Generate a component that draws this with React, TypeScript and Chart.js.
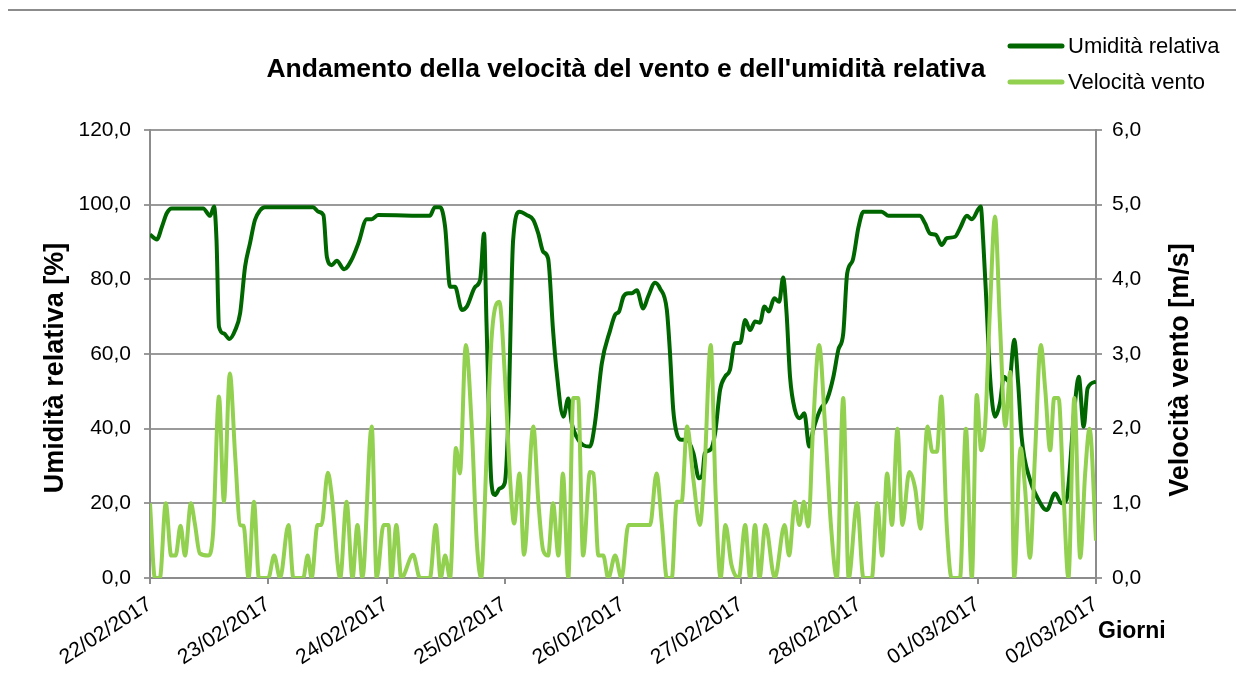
import React, { useEffect, useRef } from "react";
import { Chart, registerables } from "chart.js";

Chart.register(...registerables);

const dayLabels = [
  "22/02/2017", "23/02/2017", "24/02/2017", "25/02/2017", "26/02/2017",
  "27/02/2017", "28/02/2017", "01/03/2017", "02/03/2017",
];

// Hours from 22/02/2017 00:00 and relative humidity [%]
const humHours = [
  0, 1.4, 2.4, 3.4, 4.4, 10.8, 12.2, 13, 13.5, 14, 15, 16.1, 17.3, 18.3, 19.3, 20.3, 21.3, 22.3, 23.3,
  33.1, 34.2, 35.2, 35.9, 36.9, 37.9, 39.4, 40.9, 42.3, 44, 45, 46.3,
  56.8, 57.8, 58.9, 59.9, 60.9, 61.9, 63.3, 64.3, 66, 67, 67.8, 68.3, 69.3, 70, 71, 72, 72.7, 73.7,
  75, 76.5, 77.8, 78.8, 79.8, 80.8, 81.8, 82.5, 83.9, 84.9, 85.6, 86.6, 87.9, 89.3, 90.3, 91.7, 93.4,
  94.4, 95.2, 96.1, 97.1, 97.8, 98.8, 100.1, 101.1, 102.5, 103.5, 104.9, 105.5, 106.2, 106.9, 107.9,
  108.9, 110.3, 111.4, 112.1, 112.6, 113.7, 114.7, 115.7, 116.7, 117.7, 118.7, 119.8, 120.8, 121.8,
  122.8, 123.8, 124.7, 125.6, 126.7, 127.7, 128.5, 129.2, 129.9, 130.9, 131.9, 132.8, 133.8, 134.6,
  136, 137.5, 138.7, 139.7, 140.7, 141.5, 142.6, 143.8, 144.8, 148.5, 149.9, 156.3, 157.3, 158.3,
  159.5, 160.7, 161.7, 163.4, 164.4, 165.8, 166.8, 168.6, 169.1, 169.8, 170.5, 171.5, 172.5, 173.3,
  174.4, 175.4, 176.2, 176.9, 178.6, 180, 182, 183.7, 185, 186, 187.6, 188.5, 189.5, 190.3, 192,
];
const humValues = [
  92, 90.7, 94, 97.7, 99, 99, 97, 99.5, 90.5, 67.3, 65.5, 64, 66.4, 71, 83.4, 89.7, 95.9, 98.4, 99.3,
  99.3, 98.1, 97.2, 86, 83.8, 85, 82.7, 85.2, 89.7, 96.1, 96.1, 97.2,
  97, 99.3, 99.3, 94, 78, 78, 71.8, 72.7, 78, 79.8, 92.3, 68.2, 25.4, 22.2, 24, 25.4, 41.4, 90.5,
  98.1, 97.2, 95.9, 92.3, 87.4, 85.6, 66.4, 55.7, 43.2, 48.1, 41.4, 37.8, 35.6, 35.2, 41.4, 57.5, 66.4,
  70.5, 71.4, 75.4, 76.3, 76.3, 77.1, 72.2, 75.4, 79.1, 77.6, 71.8, 61.1, 45, 38.8, 37,
  37.1, 33.4, 26.7, 27.6, 33.4, 34.3, 38.8, 50.4, 53.9, 55.7, 62.9, 63, 69.1, 66.4,
  68.7, 68.4, 72.7, 71.4, 74.9, 74, 80.5, 70.9, 53.9, 45, 42.8, 44.1, 35.2, 39.6,
  45, 48.1, 53.9, 61.1, 65.5, 81.6, 85, 94, 98.1, 98.1, 97, 97, 95, 92.3,
  91.9, 89.2, 91, 91.4, 93.7, 97, 96.1, 99.5, 90.5, 72.7, 53.9, 43.2, 46.8, 53.9,
  52.6, 63.8, 52.2, 37.8, 26.3, 21.8, 18.2, 22.7, 20, 21, 45, 53.9, 40.5, 50.8, 52.6,
];

// Hours from 22/02/2017 00:00 and wind speed [m/s]
const windHours = [
  0, 1, 2, 3.2, 4.3, 5.2, 6.2, 7.1, 8.3, 9.1, 10.1, 11.8, 12.8, 14, 15, 16.2, 17.3, 18.3, 19, 20,
  21.1, 22.1, 24, 25.2, 26.4, 28.1, 29.1, 31.1, 32, 32.8, 34, 34.8, 36.1, 36.9, 38.6, 39.9, 41.1,
  42.1, 43.1, 45, 46, 47.4, 48.4, 49, 50, 51, 53.4, 54.8, 56.8, 58, 59, 59.9, 60.9, 62.1, 62.9,
  64.1, 65.3, 66.3, 67.2, 68.3, 69.3, 70.9, 72, 73.1, 73.9, 75, 75.9, 77.8, 78.8, 79.8, 80.8, 81.8,
  82.9, 83.8, 84.9, 85.9, 86.9, 87.9, 89.3, 90, 91, 92, 93, 94.4, 95.7, 97.1, 101.5, 102.8, 103.9,
  104.9, 105.9, 106.9, 107.9, 109, 110.3, 111.6, 112.6, 113.8, 114.8, 115.8, 116.8, 118, 119.5,
  120.8, 121.8, 122.8, 123.7, 124.9, 126.8, 128.8, 129.7, 130.9, 131.8, 132.7, 133.6, 134.6, 135.8,
  137, 138.2, 139.4, 140.7, 141.8, 143.5, 144.8, 146.5, 147.6, 148.6, 149.6, 150.6, 151.7, 152.7,
  154.1, 155.3, 156.4, 157.8, 158.8, 159.7, 160.6, 161.7, 162.7, 164.4, 165.6, 166.8, 167.8, 168.7,
  169.5, 170.5, 171.5, 172.5, 173.6, 174.6, 175.4, 176.7, 177.6, 178.6, 179.6, 180.8, 181.7, 182.7,
  183.5, 184.4, 185.4, 186.4, 187.6, 188.8, 189.8, 190.7, 192,
];
const windValues = [
  1.0, 0, 0, 1.0, 0.3, 0.3, 0.7, 0.3, 1.0, 0.73, 0.33, 0.3, 0.6, 2.43, 1.02, 2.74, 1.62, 0.71, 0.7, 0,
  1.02, 0, 0, 0.3, 0, 0.71, 0, 0, 0.3, 0, 0.71, 0.71, 1.41, 1.1, 0, 1.02, 0,
  0.71, 0, 2.03, 0, 0.71, 0.71, 0, 0.71, 0, 0.31, 0, 0, 0.71, 0, 0.3, 0, 1.74, 1.4,
  3.12, 2.03, 0.51, 0, 1.62, 3.19, 3.7, 2.74, 1.31, 0.73, 1.4, 0.31, 2.03, 1.04, 0.37, 0.3, 1.0,
  0.3, 1.4, 0, 2.41, 2.41, 0.3, 1.42, 1.4, 0.3, 0.3, 0, 0.3, 0, 0.71, 0.71, 1.4, 0.71,
  0, 0, 1.02, 1.02, 2.03, 1.31, 0.71, 1.53, 3.12, 1.13, 0, 0.71, 0.18, 0,
  0.71, 0, 0.71, 0, 0.71, 0, 0.71, 0.3, 1.02, 0.71, 1.02, 0.69, 2.05, 3.12,
  2.05, 0.71, 0, 2.41, 0, 1.0, 0, 0, 1.0, 0.3, 1.4, 0.71, 2.0, 0.71,
  1.42, 1.2, 0.66, 2.03, 1.69, 1.69, 2.43, 0.71, 0, 0, 2.0, 0, 2.45, 1.71,
  2.05, 3.63, 4.84, 3.41, 2.03, 2.76, 0, 1.74, 1.2, 0.27, 1.62, 3.12, 2.52, 1.71,
  2.41, 2.41, 1.13, 0, 2.41, 0.27, 1.4, 2.0, 0.5,
];

const humTicks = [0, 20, 40, 60, 80, 100, 120];
const windTicks = [0, 1, 2, 3, 4, 5, 6];

const DARK = "#006600";
const LIGHT = "#92D050";
const FONT = "'Liberation Sans', Arial, sans-serif";

const decorPlugin = {
  id: "decor",
  afterDraw(chart: any) {
    const ctx = chart.ctx as CanvasRenderingContext2D;
    ctx.save();
    ctx.fillStyle = "#000";
    // title
    ctx.font = `bold 26.5px ${FONT}`;
    ctx.textAlign = "center";
    ctx.textBaseline = "alphabetic";
    ctx.fillText("Andamento della velocità del vento e dell'umidità relativa", 626, 77);

    // legend
    const items = [
      { label: "Umidità relativa", color: DARK, y: 46 },
      { label: "Velocità vento", color: LIGHT, y: 82 },
    ];
    ctx.font = `22px ${FONT}`;
    ctx.textAlign = "left";
    ctx.textBaseline = "middle";
    for (const it of items) {
      ctx.strokeStyle = it.color;
      ctx.lineWidth = 5;
      ctx.lineCap = "round";
      ctx.beginPath();
      ctx.moveTo(1010, it.y);
      ctx.lineTo(1062, it.y);
      ctx.stroke();
      ctx.fillStyle = "#000";
      ctx.fillText(it.label, 1068, it.y + 1);
    }

    // axis titles
    ctx.font = `bold 27px ${FONT}`;
    ctx.textAlign = "center";
    ctx.textBaseline = "middle";
    ctx.save();
    ctx.translate(56, 368);
    ctx.rotate(-Math.PI / 2);
    ctx.fillText("Umidità relativa [%]", 0, 0);
    ctx.restore();
    ctx.save();
    ctx.translate(1181, 370);
    ctx.rotate(-Math.PI / 2);
    ctx.fillText("Velocità vento [m/s]", 0, 0);
    ctx.restore();

    ctx.font = `bold 23px ${FONT}`;
    ctx.textAlign = "left";
    ctx.fillText("Giorni", 1098, 632);
    ctx.restore();
  },
};

export default function App() {
  const canvasRef = useRef<HTMLCanvasElement | null>(null);

  useEffect(() => {
    if (!canvasRef.current) return;
    const fmt = (v: number) => v.toFixed(1).replace(".", ",");
    const chart = new Chart(canvasRef.current, {
      type: "line",
      data: {
        datasets: [
          {
            label: "Umidità relativa",
            data: humHours.map((h, i) => ({ x: h, y: humValues[i] })),
            borderColor: DARK,
            backgroundColor: DARK,
            borderWidth: 4,
            pointRadius: 0,
            cubicInterpolationMode: "monotone",
            yAxisID: "y",
            order: 1,
          },
          {
            label: "Velocità vento",
            data: windHours.map((h, i) => ({ x: h, y: windValues[i] })),
            borderColor: LIGHT,
            backgroundColor: LIGHT,
            borderWidth: 4,
            pointRadius: 0,
            cubicInterpolationMode: "monotone",
            yAxisID: "y1",
            order: 0,
          },
        ],
      },
      options: {
        responsive: false,
        animation: false,
        devicePixelRatio: 1,
        layout: { padding: { top: 130, left: 0, right: 0, bottom: 0 } },
        plugins: {
          legend: { display: false },
          title: { display: false },
          tooltip: { enabled: false },
        },
        font: { family: FONT },
        scales: {
          x: {
            type: "linear",
            min: 0,
            max: 192,
            ticks: {
              stepSize: 24,
              autoSkip: false,
              maxRotation: 33,
              minRotation: 33,
              padding: 8,
              color: "#000",
              font: { size: 21, family: FONT },
              callback: (v: any) => dayLabels[Math.round(Number(v) / 24)] ?? "",
            },
            grid: { drawOnChartArea: false, tickLength: 6, color: "#8c8c8c", lineWidth: 2 },
            border: { color: "#8c8c8c", width: 2 },
            afterFit: (s: any) => {
              s.height = 97;
            },
          },
          y: {
            position: "left",
            min: humTicks[0],
            max: humTicks[humTicks.length - 1],
            afterBuildTicks: (s: any) => {
              s.ticks = humTicks.map((v) => ({ value: v }));
            },
            ticks: {
              padding: 13,
              color: "#000",
              font: { size: 21, family: FONT },
              callback: (v: any) => fmt(Number(v)),
            },
            grid: { color: "#9a9a9a", lineWidth: 2, tickLength: 6, tickColor: "#9a9a9a" },
            border: { color: "#8c8c8c", width: 2 },
            afterFit: (s: any) => {
              s.width = 150;
            },
          },
          y1: {
            position: "right",
            min: windTicks[0],
            max: windTicks[windTicks.length - 1],
            afterBuildTicks: (s: any) => {
              s.ticks = windTicks.map((v) => ({ value: v }));
            },
            ticks: {
              padding: 10,
              color: "#000",
              font: { size: 21, family: FONT },
              callback: (v: any) => fmt(Number(v)),
            },
            grid: { drawOnChartArea: false, tickLength: 6, color: "#9a9a9a", lineWidth: 2 },
            border: { color: "#8c8c8c", width: 2 },
            afterFit: (s: any) => {
              s.width = 148;
            },
          },
        },
      } as any,
      plugins: [decorPlugin],
    });
    return () => chart.destroy();
  }, []);

  return (
    <div style={{ position: "relative", width: 1244, height: 675, margin: -8, overflow: "hidden", background: "#fff" }}>
      <canvas ref={canvasRef} width={1244} height={675} style={{ display: "block" }} />
      <div
        style={{
          position: "absolute",
          left: 6,
          top: 9,
          width: 1300,
          height: 700,
          borderTop: "2px solid #8c8c8c",
          borderLeft: "2px solid #8c8c8c",
          pointerEvents: "none",
        }}
      />
    </div>
  );
}
